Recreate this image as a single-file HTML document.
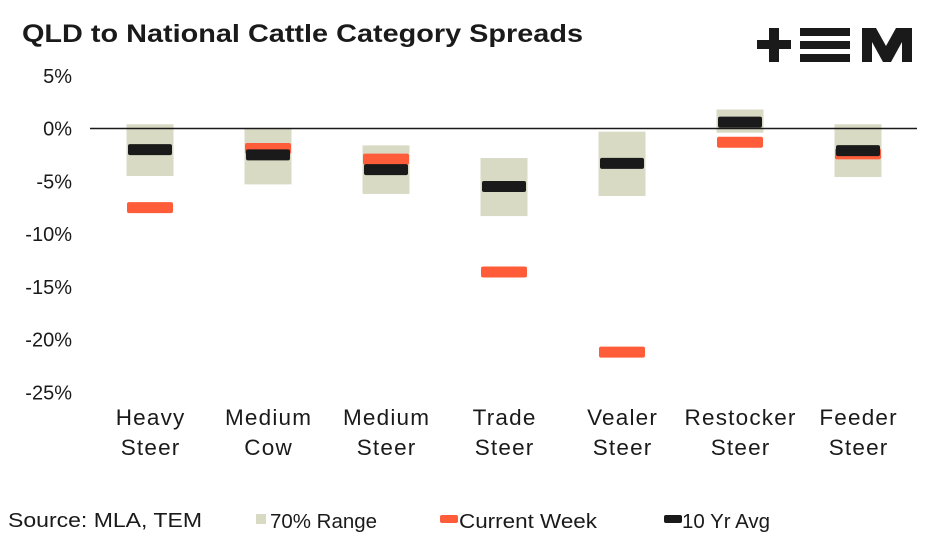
<!DOCTYPE html>
<html><head><meta charset="utf-8"><style>
body{margin:0;background:#fff;font-family:"Liberation Sans",Arial,sans-serif}
</style></head><body>
<svg id="c" width="939" height="539" xmlns="http://www.w3.org/2000/svg">
<text x="22" y="42" font-size="25" font-weight="bold" fill="#1a1a1a" textLength="561" lengthAdjust="spacingAndGlyphs">QLD to National Cattle Category Spreads</text>
<g fill="#1a1a1a">
<rect x="757" y="40" width="34" height="9"/><rect x="769" y="28" width="10" height="34"/>
<rect x="800" y="28" width="50" height="8"/><rect x="800" y="41" width="50" height="8"/><rect x="800" y="54" width="50" height="8"/>
<path d="M862 62V28h14l10 18 10-18h16v34h-10V42l-11 20h-8l-11-20v20z"/>
</g>
<g id="yaxis"></g><g id="bars"></g>
<g font-size="20" fill="#1a1a1a">
<text x="8" y="527" textLength="194" lengthAdjust="spacingAndGlyphs">Source: MLA, TEM</text>
<rect x="256" y="514" width="10" height="10" fill="#d9dac4"/>
<text x="270" y="528" textLength="107" lengthAdjust="spacingAndGlyphs">70% Range</text>
<rect x="440" y="515" width="18" height="8" rx="2" fill="#ff5c3a"/>
<text x="459" y="528" textLength="138" lengthAdjust="spacingAndGlyphs">Current Week</text>
<rect x="664" y="515" width="18" height="8" rx="2" fill="#1a1a1a"/>
<text x="682" y="528" textLength="88" lengthAdjust="spacingAndGlyphs">10 Yr Avg</text>
</g>
</svg>
<script>
const categories=[["Heavy","Steer"],["Medium","Cow"],["Medium","Steer"],["Trade","Steer"],["Vealer","Steer"],["Restocker","Steer"],["Feeder","Steer"]];
const rangeHigh=[0.4,0.0,-1.6,-2.8,-0.3,1.8,0.4];
const rangeLow=[-4.5,-5.3,-6.2,-8.3,-6.4,-0.4,-4.6];
const avg10=[-2.0,-2.5,-3.9,-5.5,-3.3,0.6,-2.1];
const current=[-7.5,-1.9,-2.9,-13.6,-21.2,-1.3,-2.4];
const ticks=[5,0,-5,-10,-15,-20,-25];
const NS="http://www.w3.org/2000/svg";
const y=v=>128.5-v*10.55;
const x=i=>150+i*118;
function mk(t,a,p){const e=document.createElementNS(NS,t);for(const k in a)e.setAttribute(k,a[k]);p.appendChild(e);return e;}
const ya=document.getElementById('yaxis'),bg=document.getElementById('bars');
ticks.forEach(t=>{const e=mk('text',{x:72,y:y(t)+7,'text-anchor':'end','font-size':20,fill:'#1a1a1a'},ya);e.textContent=t+'%';

});
categories.forEach((c,i)=>{
const r=mk('rect',{x:x(i)-23.5,y:y(rangeHigh[i]),width:47,height:y(rangeLow[i])-y(rangeHigh[i]),fill:'#d9dac4'},bg);


c.forEach((w,j)=>{const t=mk('text',{x:x(i)+0.6,y:425+j*30,'text-anchor':'middle','font-size':22.5,'letter-spacing':1.2,fill:'#1a1a1a'},bg);t.textContent=w;

});
});
const zl=mk('line',{x1:90,x2:917,y1:y(0),y2:y(0),stroke:'#1a1a1a','stroke-width':1.5},bg);


categories.forEach((c,i)=>{
const cu=mk('rect',{x:x(i)-23,y:y(current[i])-5.5,width:46,height:11,rx:2,fill:'#ff5c3a'},bg);


const a=mk('rect',{x:x(i)-22,y:y(avg10[i])-5.5,width:44,height:11,rx:2,fill:'#1a1a1a'},bg);


});
</script>
</body></html>
